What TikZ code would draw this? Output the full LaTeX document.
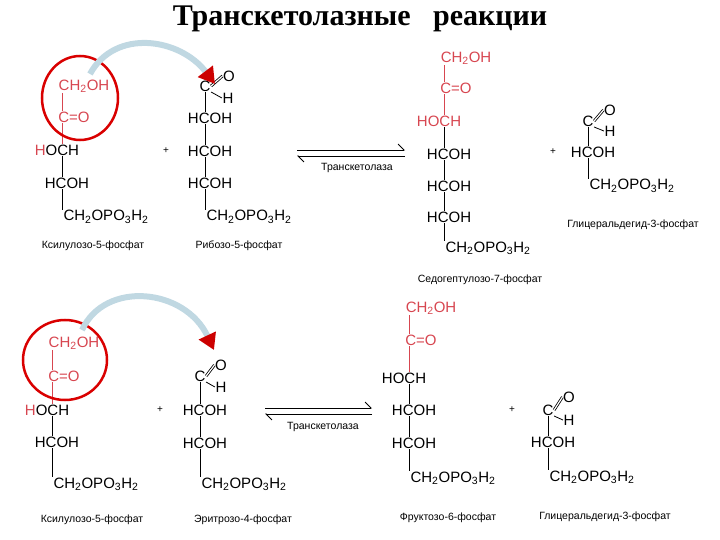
\documentclass[tikz,border=0pt]{standalone}
\usepackage{fontspec}
\setmainfont{Liberation Sans}
\newfontfamily\titlefont{Liberation Serif}
\usetikzlibrary{arrows.meta}
\definecolor{pink}{RGB}{215,70,80}
\begin{document}
\begin{tikzpicture}[x=1pt,y=-1pt,
  ch/.style={font=\fontsize{15}{16}\selectfont, inner sep=0.5pt},
  lbl/.style={font=\fontsize{10.5}{12}\selectfont, inner sep=1pt},
  pls/.style={font=\fontsize{10}{11}\selectfont, inner sep=1pt},
  bd/.style={line width=0.8pt},
  rd/.style={ch,text=pink},
  ring/.style={draw=red!85!black,line width=2.5pt},
  bigarrow/.style={line width=6pt,draw=gray!60!cyan!40,-{Triangle[length=16pt,width=18pt,fill=red!80!black,color=red!80!black]}}]
\useasboundingbox (0,0) rectangle (720,540);
\node[font=\titlefont\bfseries\fontsize{30}{32}\selectfont] (title) at (360,19) {Транскетолазные \ \ реакции};
% ===== TOP =====
\node[rd] (a1) at (84,86) {CH\textsubscript{2}OH};
\node[rd] (a2) at (74,117) {C=O};
\node[ch] (a3) at (57,150) {\textcolor{pink}{H}OCH};
\node[ch] (a4) at (67,183) {HCOH};
\node[ch] (a5) at (106,217) {CH\textsubscript{2}OPO\textsubscript{3}H\textsubscript{2}};
\node[lbl] (a6) at (93,246) {Ксилулозо-5-фосфат};
\coordinate (ax) at (62,0);
\draw[bd,pink] (a1.south -| ax) -- (a2.north -| ax);
\draw[bd,pink] (a2.south -| ax) -- (a3.north -| ax);
\draw[bd] (a3.south -| ax) -- (a4.north -| ax);
\draw[bd] (a4.south -| ax) -- (a5.north -| ax);
\draw[ring] (80,98) ellipse (38 and 42);
% ribose
\node[ch] (b1) at (205,86) {C};
\node[ch] (b1o) at (229,76) {O};
\node[ch] (b1h) at (228,98) {H};
\node[ch] (b2) at (210,118) {HCOH};
\node[ch] (b3) at (210,151) {HCOH};
\node[ch] (b4) at (210,183) {HCOH};
\node[ch] (b5) at (249,217) {CH\textsubscript{2}OPO\textsubscript{3}H\textsubscript{2}};
\node[lbl] (b6) at (239,246) {Рибозо-5-фосфат};
\node[pls] (pl1) at (166,151) {+};
\coordinate (bx) at (205,0);
\draw[bd,double,double distance=1.2pt] (b1.east) -- (b1o.west);
\draw[bd] (b1.south east) -- (b1h.west);
\draw[bd] (b1.south -| bx) -- (b2.north -| bx);
\draw[bd] (b2.south -| bx) -- (b3.north -| bx);
\draw[bd] (b3.south -| bx) -- (b4.north -| bx);
\draw[bd] (b4.south -| bx) -- (b5.north -| bx);
\coordinate (r1a) at (297,150); \coordinate (r1b) at (405,150);
\coordinate (r1c) at (297,156); \coordinate (r1d) at (405,156);
\draw[bd,-{Straight Barb[left,length=6pt]}] (r1a) -- (r1b);
\draw[bd,-{Straight Barb[left,length=6pt]}] (r1d) -- (r1c);
\node[lbl] (e1) at (357,168) {Транскетолаза};
% sedoheptulose
\node[rd] (c1) at (466,58) {CH\textsubscript{2}OH};
\node[rd] (c2) at (456,88) {C=O};
\node[rd] (c3) at (439,121) {HOCH};
\node[ch] (c4) at (449,154) {HCOH};
\node[ch] (c5) at (449,186) {HCOH};
\node[ch] (c6) at (449,217) {HCOH};
\node[ch] (c7) at (488,248) {CH\textsubscript{2}OPO\textsubscript{3}H\textsubscript{2}};
\node[lbl] (c8) at (480,280) {Седогептулозо-7-фосфат};
\coordinate (cx) at (444,0);
\draw[bd,pink] (c1.south -| cx) -- (c2.north -| cx);
\draw[bd,pink] (c2.south -| cx) -- (c3.north -| cx);
\draw[bd] (c3.south -| cx) -- (c4.north -| cx);
\draw[bd] (c4.south -| cx) -- (c5.north -| cx);
\draw[bd] (c5.south -| cx) -- (c6.north -| cx);
\draw[bd] (c6.south -| cx) -- (c7.north -| cx);
\node[pls] (pl2) at (553,152) {+};
\node[ch] (d1) at (588,121) {C};
\node[ch] (d1o) at (610,110) {O};
\node[ch] (d1h) at (610,131) {H};
\node[ch] (d2) at (593,152) {HCOH};
\node[ch] (d3) at (632,186) {CH\textsubscript{2}OPO\textsubscript{3}H\textsubscript{2}};
\node[lbl] (d4) at (633,225) {Глицеральдегид-3-фосфат};
\coordinate (dx) at (588,0);
\draw[bd,double,double distance=1.2pt] (d1.east) -- (d1o.west);
\draw[bd] (d1.south east) -- (d1h.west);
\draw[bd] (d1.south -| dx) -- (d2.north -| dx);
\draw[bd] (d2.south -| dx) -- (d3.north -| dx);
\coordinate (t0) at (90,74); \coordinate (t1) at (215,84);
\draw[bigarrow] (t0) .. controls (115,28) and (180,38) .. (t1);
% ===== BOTTOM =====
\node[rd] (f1) at (74,343) {CH\textsubscript{2}OH};
\node[rd] (f2) at (64,376) {C=O};
\node[ch] (f3) at (47,410) {\textcolor{pink}{H}OCH};
\node[ch] (f4) at (57,442) {HCOH};
\node[ch] (f5) at (96,484) {CH\textsubscript{2}OPO\textsubscript{3}H\textsubscript{2}};
\node[lbl] (f6) at (92,520) {Ксилулозо-5-фосфат};
\coordinate (fx) at (52,0);
\draw[bd,pink] (f1.south -| fx) -- (f2.north -| fx);
\draw[bd,pink] (f2.south -| fx) -- (f3.north -| fx);
\draw[bd] (f3.south -| fx) -- (f4.north -| fx);
\draw[bd] (f4.south -| fx) -- (f5.north -| fx);
\draw[ring] (65,360) ellipse (42 and 40);
\node[ch] (g1) at (200,376) {C};
\node[ch] (g1o) at (221,365) {O};
\node[ch] (g1h) at (221,387) {H};
\node[ch] (g2) at (205,410) {HCOH};
\node[ch] (g3) at (205,443) {HCOH};
\node[ch] (g4) at (244,484) {CH\textsubscript{2}OPO\textsubscript{3}H\textsubscript{2}};
\node[lbl] (g5) at (243,520) {Эритрозо-4-фосфат};
\node[pls] (pl3) at (160,410) {+};
\coordinate (gx) at (200,0);
\draw[bd,double,double distance=1.2pt] (g1.east) -- (g1o.west);
\draw[bd] (g1.south east) -- (g1h.west);
\draw[bd] (g1.south -| gx) -- (g2.north -| gx);
\draw[bd] (g2.south -| gx) -- (g3.north -| gx);
\draw[bd] (g3.south -| gx) -- (g4.north -| gx);
\coordinate (r2a) at (265,408); \coordinate (r2b) at (372,408);
\coordinate (r2c) at (265,414); \coordinate (r2d) at (372,414);
\draw[bd,-{Straight Barb[left,length=6pt]}] (r2a) -- (r2b);
\draw[bd,-{Straight Barb[left,length=6pt]}] (r2d) -- (r2c);
\node[lbl] (e2) at (323,427) {Транскетолаза};
\node[rd] (h1) at (431,308) {CH\textsubscript{2}OH};
\node[rd] (h2) at (421,340) {C=O};
\node[ch] (h3) at (404,378) {HOCH};
\node[ch] (h4) at (414,410) {HCOH};
\node[ch] (h5) at (414,443) {HCOH};
\node[ch] (h6) at (453,478) {CH\textsubscript{2}OPO\textsubscript{3}H\textsubscript{2}};
\node[lbl] (h7) at (448,518) {Фруктозо-6-фосфат};
\coordinate (hx) at (409,0);
\draw[bd,pink] (h1.south -| hx) -- (h2.north -| hx);
\draw[bd,pink] (h2.south -| hx) -- (h3.north -| hx);
\draw[bd] (h3.south -| hx) -- (h4.north -| hx);
\draw[bd] (h4.south -| hx) -- (h5.north -| hx);
\draw[bd] (h5.south -| hx) -- (h6.north -| hx);
\node[pls] (pl4) at (512,410) {+};
\node[ch] (k1) at (548,410) {C};
\node[ch] (k1o) at (569,397) {O};
\node[ch] (k1h) at (569,420) {H};
\node[ch] (k2) at (553,442) {HCOH};
\node[ch] (k3) at (592,477) {CH\textsubscript{2}OPO\textsubscript{3}H\textsubscript{2}};
\node[lbl] (k4) at (605,517) {Глицеральдегид-3-фосфат};
\coordinate (kx) at (548,0);
\draw[bd,double,double distance=1.2pt] (k1.east) -- (k1o.west);
\draw[bd] (k1.south east) -- (k1h.west);
\draw[bd] (k1.south -| kx) -- (k2.north -| kx);
\draw[bd] (k2.south -| kx) -- (k3.north -| kx);
\coordinate (u0) at (82,330); \coordinate (u1) at (214,350);
\draw[bigarrow] (u0) .. controls (105,280) and (185,288) .. (u1);
\end{tikzpicture}
\end{document}
